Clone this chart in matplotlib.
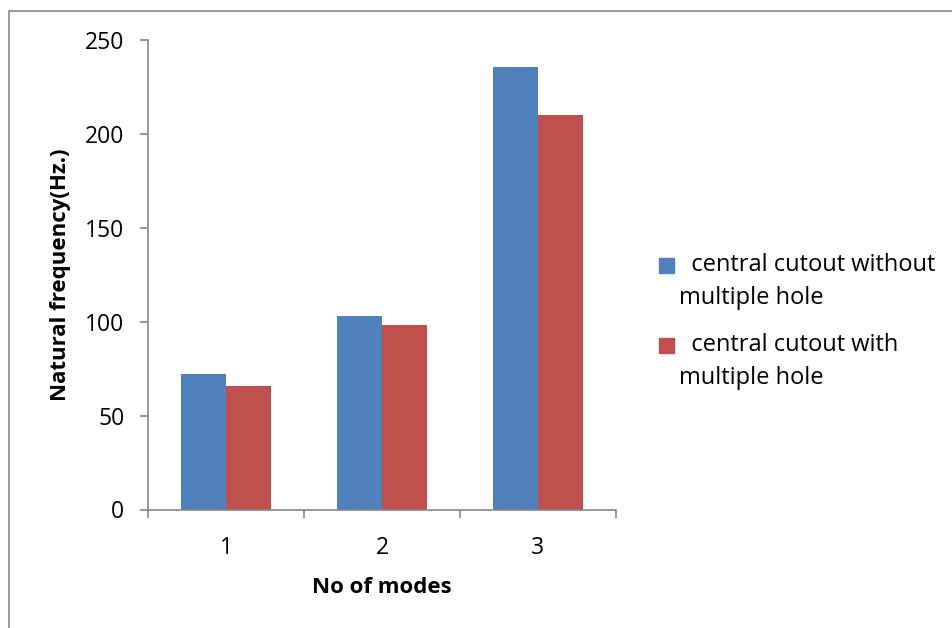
import numpy as np
import matplotlib.pyplot as plt
from matplotlib.patches import Rectangle
from matplotlib.lines import Line2D

plt.rcParams['font.family'] = ['Open Sans', 'DejaVu Sans']

modes = ['1', '2', '3']
without_hole = [72, 103, 235.5]
with_hole = [66, 98, 210]
labels = ['  central cutout without\nmultiple hole', '  central cutout with\nmultiple hole']
colors = ['#4F81BD', '#C0504D']
yticks = [0, 50, 100, 150, 200, 250]

W, H = 952, 628
fig = plt.figure(figsize=(W / 100, H / 100), dpi=100)
ax = fig.add_axes([148 / W, 1 - 509.5 / H, (616 - 148) / W, (509.5 - 40) / H])

x = np.arange(len(modes))
w = 0.2865
ax.bar(x - w / 2, without_hole, w, color=colors[0], edgecolor='none')
ax.bar(x + w / 2, with_hole, w, color=colors[1], edgecolor='none')

gray = '#868686'
ax.set_xlim(-0.5, len(modes) - 0.5)
ax.set_ylim(0, 250)
ax.set_yticks(yticks)
ax.set_xticks(x)
ax.set_xticklabels(modes)
ax.set_xticks(np.arange(len(modes) + 1) - 0.5, minor=True)
ax.tick_params(axis='x', which='major', length=0, pad=19, labelsize=16.5)
ax.tick_params(axis='x', which='minor', length=6, color=gray, width=1.2)
ax.tick_params(axis='y', length=6, color=gray, width=1.2, labelsize=16.5, pad=11)
for s in ['top', 'right']:
    ax.spines[s].set_visible(False)
for s in ['left', 'bottom']:
    ax.spines[s].set_color(gray)
    ax.spines[s].set_linewidth(1.2)

ax.set_xlabel('No of modes', fontsize=16, fontweight='bold', labelpad=12)
ax.set_ylabel('Natural frequency(Hz.)', fontsize=16, fontweight='bold', labelpad=10)

# legend drawn by hand: square next to first line, second line indented less
sq_y = [258, 338]
for c, lab, y0 in zip(colors, labels, sq_y):
    fig.patches.append(Rectangle((659 / W, 1 - (y0 + 14.7) / H), 15 / W, 14.7 / H,
                                 transform=fig.transFigure, color=c))
    first, second = lab.split('\n')
    fig.text(679 / W, 1 - (y0 + 7) / H, first, fontsize=17, va='center', ha='left')
    fig.text(679 / W, 1 - (y0 + 40) / H, second, fontsize=17, va='center', ha='left')

# outer chart border
fig.add_artist(Line2D([8.5 / W, 8.5 / W, 1], [0, 1 - 10.5 / H, 1 - 10.5 / H],
                      transform=fig.transFigure, color=gray, linewidth=1.2))

fig.savefig('out.png', dpi=100)
